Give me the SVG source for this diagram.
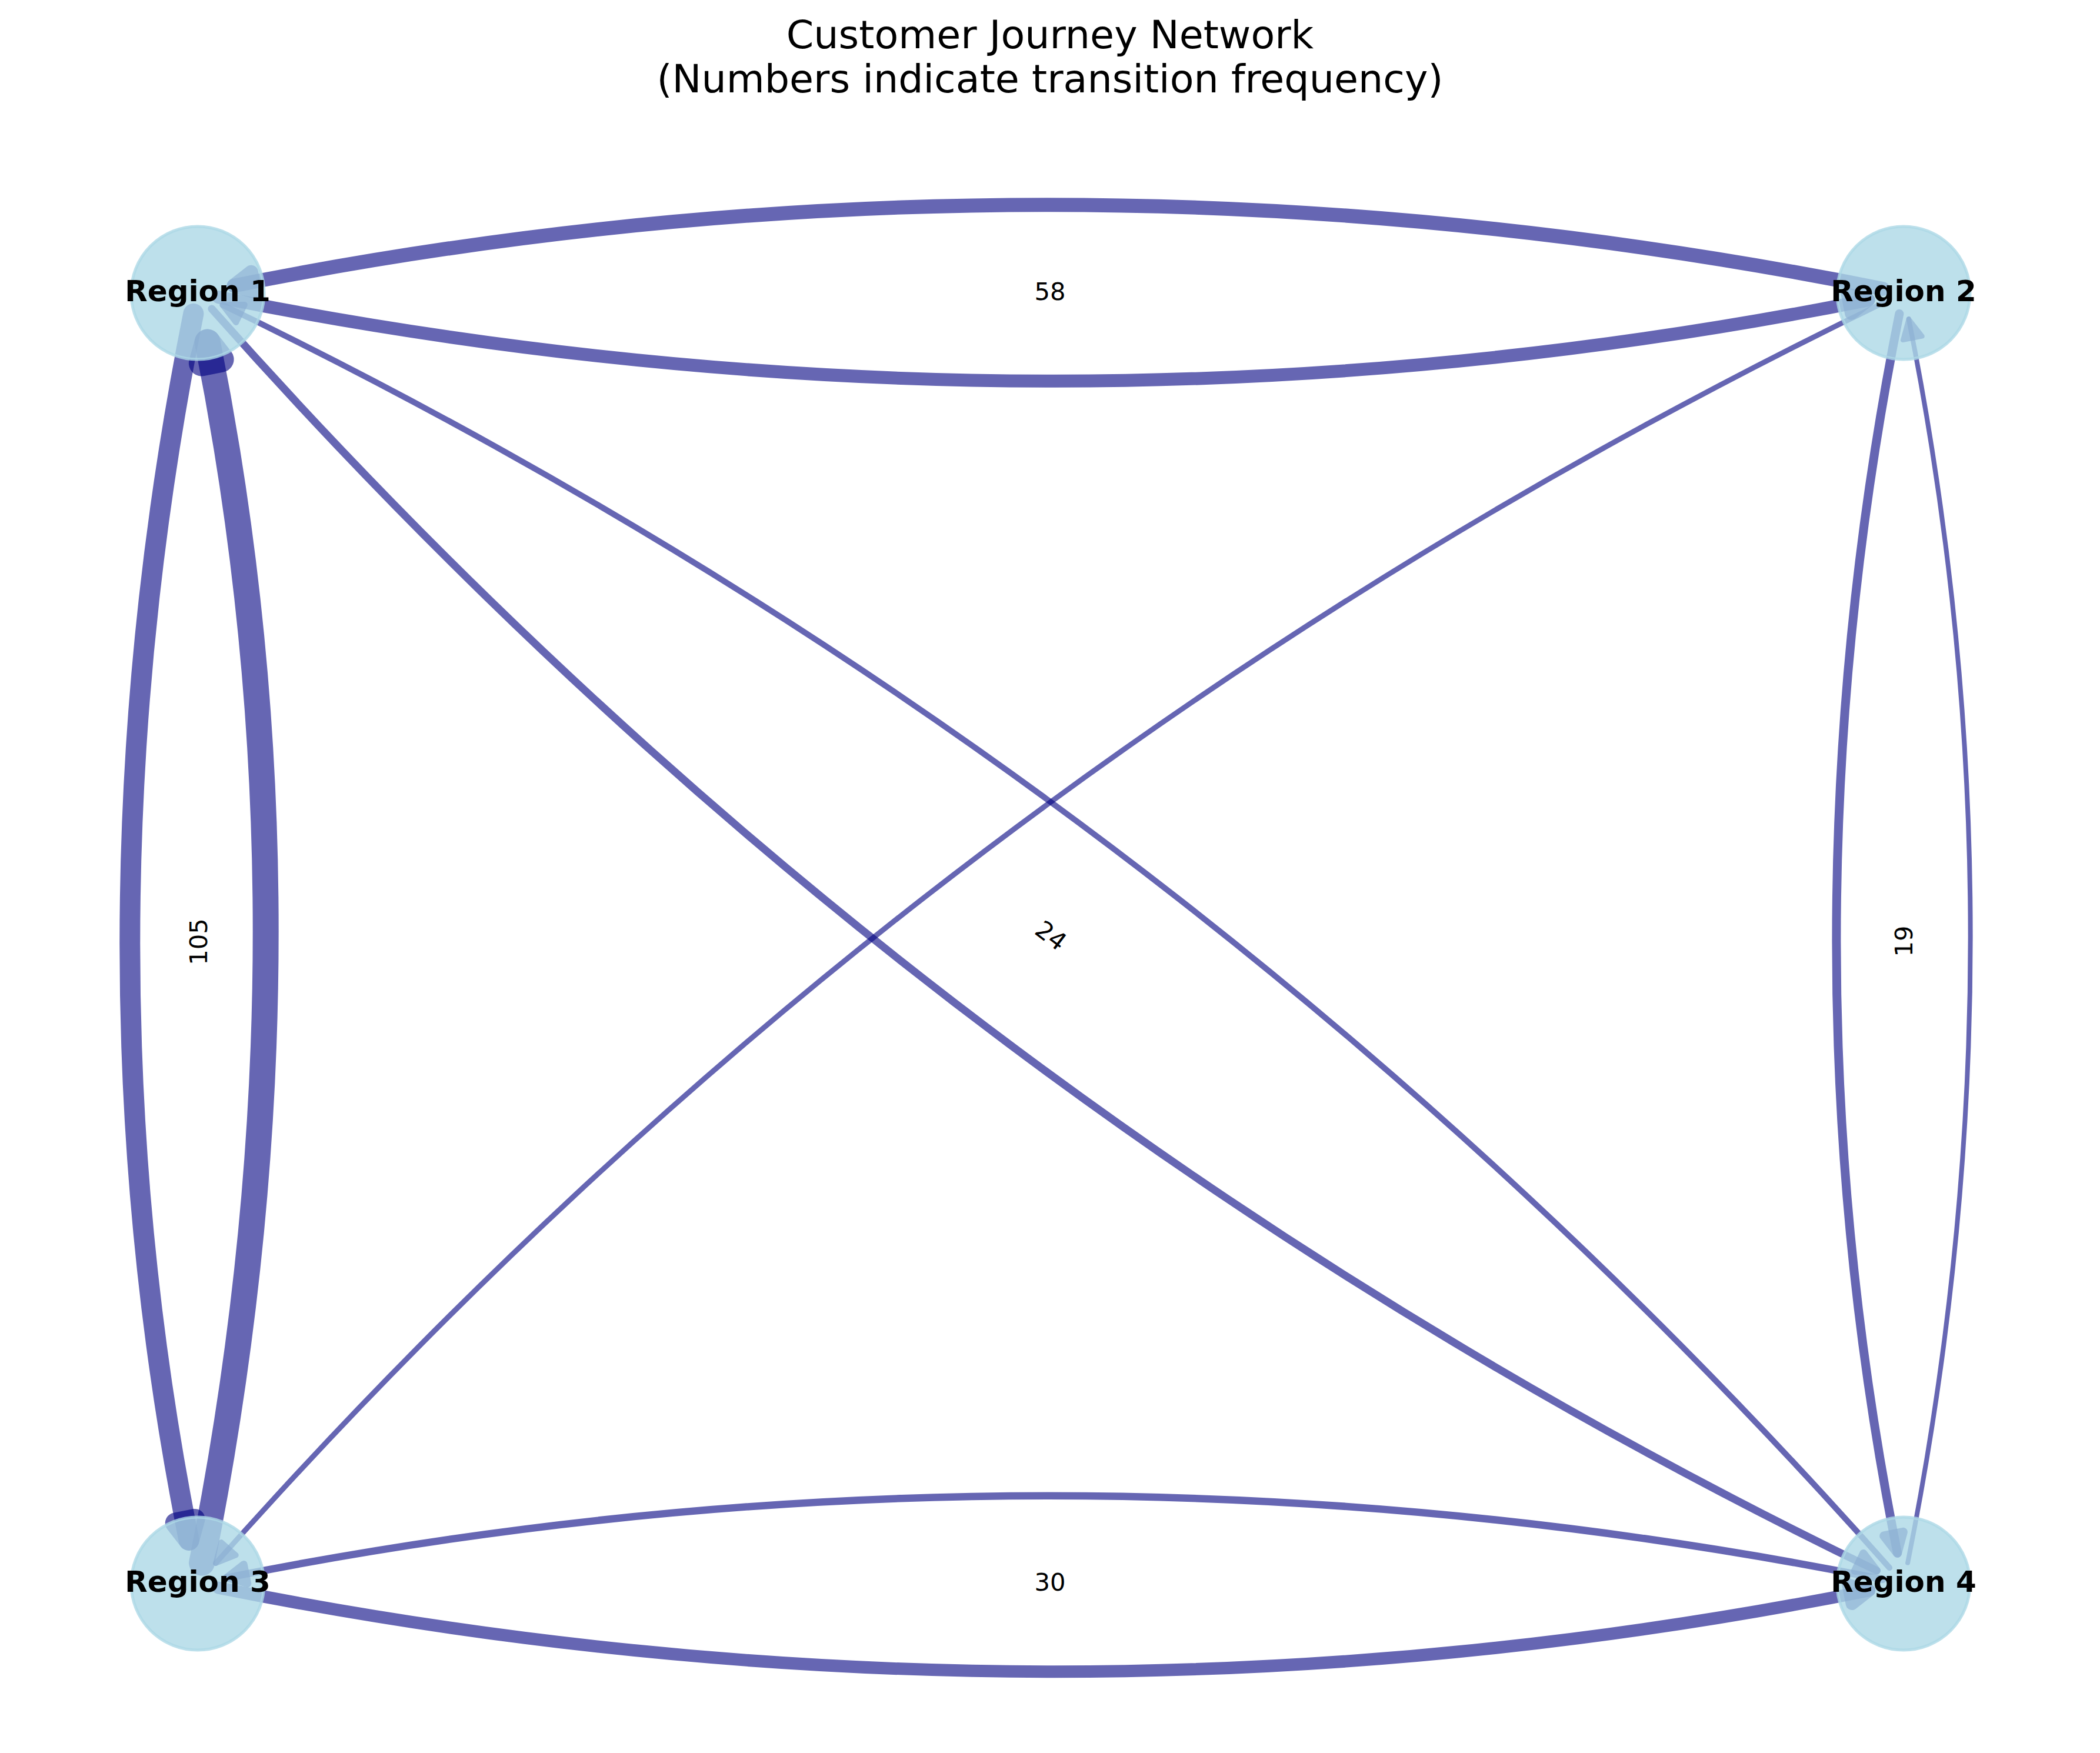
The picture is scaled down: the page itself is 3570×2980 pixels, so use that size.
<svg xmlns="http://www.w3.org/2000/svg" width="3570" height="2980" viewBox="0 0 3570 2980">
<style>
.title{font-family:"DejaVu Sans","Liberation Sans",sans-serif;font-size:66.7px;fill:#000;text-anchor:middle}
.elabel{font-family:"DejaVu Sans","Liberation Sans",sans-serif;font-size:41.7px;fill:#000;text-anchor:middle}
.nlabel{font-family:"DejaVu Sans","Liberation Sans",sans-serif;font-size:50px;font-weight:bold;fill:#000;text-anchor:middle}
.line{fill:none;stroke:#000080;stroke-linecap:round;opacity:0.6}
.head{fill:#000080;stroke:#000080;stroke-linejoin:round;opacity:0.6}
.node circle{fill:#add8e6;fill-opacity:0.8;stroke:#add8e6;stroke-opacity:0.8;stroke-width:5}
</style>
<rect width="3570" height="2980" fill="#ffffff"/>
<g id="title">
<text class="title" x="1785" y="82">Customer Journey Network</text>
<text class="title" x="1785" y="157">(Numbers indicate transition frequency)</text>
</g>
<g id="connectors">
<g id="edge-r1-r2" stroke-width="22">
<path class="line" d="M371.3,505.1 Q1786,788 3176.6,509.9"/>
<polygon class="head" points="3147.2,532.8 3176.6,509.9 3140.6,500.0"/>
</g>
<g id="edge-r2-r1" stroke-width="24">
<path class="line" d="M3200.7,490.9 Q1786,208 397.6,485.7"/>
<polygon class="head" points="427.0,462.8 397.6,485.7 433.6,495.6"/>
</g>
<g id="edge-r1-r3" stroke-width="35">
<path class="line" d="M328.9,533.3 Q116.6,1595 321.2,2618.4"/>
<polygon class="head" points="298.3,2589.0 321.2,2618.4 331.1,2582.4"/>
</g>
<g id="edge-r3-r1" stroke-width="44">
<path class="line" d="M343.1,2656.7 Q555.4,1595 352.7,581.5"/>
<polygon class="head" points="375.6,610.9 352.7,581.5 342.9,617.5"/>
</g>
<g id="edge-r1-r4" stroke-width="13">
<path class="line" d="M359.9,524.9 Q1566.6,1885 3190.5,2670.0"/>
<polygon class="head" points="3153.2,2670.5 3190.5,2670.0 3167.8,2640.5"/>
</g>
<g id="edge-r4-r1" stroke-width="10">
<path class="line" d="M3212.1,2665.1 Q2005.4,1305 378.5,518.5"/>
<polygon class="head" points="415.8,518.0 378.5,518.5 401.2,548.0"/>
</g>
<g id="edge-r2-r3" stroke-width="9">
<path class="line" d="M3203.6,513.7 Q1566.6,1305 366.6,2657.6"/>
<polygon class="head" points="376.2,2621.5 366.6,2657.6 401.2,2643.7"/>
</g>
<g id="edge-r2-r4" stroke-width="15">
<path class="line" d="M3228.9,533.3 Q3016.6,1595 3225.6,2640.3"/>
<polygon class="head" points="3202.7,2610.9 3225.6,2640.3 3235.4,2604.3"/>
</g>
<g id="edge-r4-r2" stroke-width="8">
<path class="line" d="M3243.1,2656.7 Q3455.4,1595 3244.8,542.1"/>
<polygon class="head" points="3267.7,571.5 3244.8,542.1 3235.0,578.1"/>
</g>
<g id="edge-r3-r4" stroke-width="21">
<path class="line" d="M371.3,2699.1 Q1786,2982 3177.7,2703.7"/>
<polygon class="head" points="3148.3,2726.6 3177.7,2703.7 3141.7,2693.9"/>
</g>
<g id="edge-r4-r3" stroke-width="12.5">
<path class="line" d="M3200.7,2684.9 Q1786,2402 385.0,2682.2"/>
<polygon class="head" points="414.4,2659.3 385.0,2682.2 421.0,2692.0"/>
</g>
</g>
<g id="nodes">
<g id="node-r1" class="node"><circle cx="336" cy="498" r="113"/><text class="nlabel" x="336" y="512">Region 1</text></g>
<g id="node-r2" class="node"><circle cx="3236" cy="498" r="113"/><text class="nlabel" x="3236" y="512">Region 2</text></g>
<g id="node-r3" class="node"><circle cx="336" cy="2692" r="113"/><text class="nlabel" x="336" y="2706">Region 3</text></g>
<g id="node-r4" class="node"><circle cx="3236" cy="2692" r="113"/><text class="nlabel" x="3236" y="2706">Region 4</text></g>
</g>
<g id="edge-labels">
<text class="elabel" x="1785" y="510">58</text>
<text class="elabel" x="1785" y="2704">30</text>
<text class="elabel" transform="translate(352,1601) rotate(-90)">105</text>
<text class="elabel" transform="translate(3251,1600) rotate(-90)">19</text>
<text class="elabel" transform="translate(1778,1602) rotate(37.1)">24</text>
</g>
</svg>
